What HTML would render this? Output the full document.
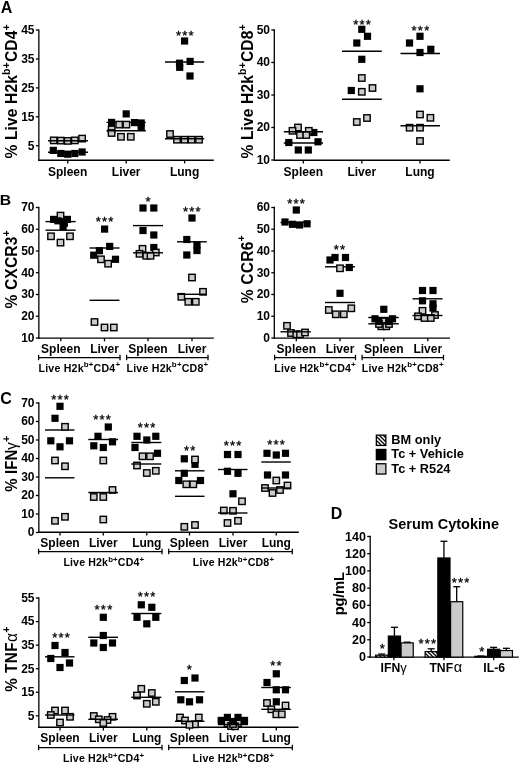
<!DOCTYPE html>
<html><head><meta charset="utf-8"><title>Figure</title>
<style>
html,body{margin:0;padding:0;background:#fff;}
body{width:520px;height:763px;overflow:hidden;}
svg{display:block;will-change:transform;font-family:"Liberation Sans", sans-serif;fill:#000;}
</style></head><body>
<svg width="520" height="763" viewBox="0 0 520 763">
<defs>
<pattern id="hatch" width="4" height="4" patternUnits="userSpaceOnUse">
<rect width="4" height="4" fill="#fff"/>
<path d="M-1,-1 L5,5 M-1,3 L1,5 M3,-1 L5,1" stroke="#000" stroke-width="1.25" fill="none"/>
</pattern>
</defs>
<rect width="520" height="763" fill="#fff"/>
<text x="0.80" y="12.60" font-size="16" font-weight="bold" text-anchor="start" >A</text>
<text x="-0.20" y="205.00" font-size="15.3" font-weight="bold" text-anchor="start" textLength="11.4" lengthAdjust="spacingAndGlyphs">B</text>
<text x="0.20" y="403.70" font-size="16" font-weight="bold" text-anchor="start" >C</text>
<text x="330.80" y="518.80" font-size="16" font-weight="bold" text-anchor="start" >D</text>
<line x1="38.85" y1="29.45" x2="38.85" y2="160.90" stroke="#000" stroke-width="1.3"/>
<line x1="38.20" y1="160.20" x2="213.80" y2="160.20" stroke="#000" stroke-width="1.4"/>
<line x1="35.85" y1="30.10" x2="38.85" y2="30.10" stroke="#000" stroke-width="1.3"/>
<text x="34.55" y="33.98" font-size="12" font-weight="bold" text-anchor="end" >45</text>
<line x1="35.85" y1="59.00" x2="38.85" y2="59.00" stroke="#000" stroke-width="1.3"/>
<text x="34.55" y="62.88" font-size="12" font-weight="bold" text-anchor="end" >35</text>
<line x1="35.85" y1="87.90" x2="38.85" y2="87.90" stroke="#000" stroke-width="1.3"/>
<text x="34.55" y="91.78" font-size="12" font-weight="bold" text-anchor="end" >25</text>
<line x1="35.85" y1="116.80" x2="38.85" y2="116.80" stroke="#000" stroke-width="1.3"/>
<text x="34.55" y="120.68" font-size="12" font-weight="bold" text-anchor="end" >15</text>
<line x1="35.85" y1="145.70" x2="38.85" y2="145.70" stroke="#000" stroke-width="1.3"/>
<text x="34.55" y="149.58" font-size="12" font-weight="bold" text-anchor="end" >5</text>
<line x1="67.70" y1="160.20" x2="67.70" y2="163.40" stroke="#000" stroke-width="1.3"/>
<text x="67.70" y="175.60" font-size="12" font-weight="bold" text-anchor="middle" >Spleen</text>
<line x1="126.20" y1="160.20" x2="126.20" y2="163.40" stroke="#000" stroke-width="1.3"/>
<text x="126.20" y="175.60" font-size="12" font-weight="bold" text-anchor="middle" >Liver</text>
<line x1="184.60" y1="160.20" x2="184.60" y2="163.40" stroke="#000" stroke-width="1.3"/>
<text x="184.60" y="175.60" font-size="12" font-weight="bold" text-anchor="middle" >Lung</text>
<text transform="translate(17.00,158.50) rotate(-90)" font-size="15.6" font-weight="bold" textLength="134.10" lengthAdjust="spacing">% Live H2k<tspan font-size="10.5" dy="-7">b+</tspan><tspan dy="7">CD4</tspan><tspan font-size="10.5" dy="-7">+</tspan></text>
<rect x="49.70" y="146.80" width="7.2" height="7.2" fill="#000"/>
<rect x="57.20" y="149.90" width="7.2" height="7.2" fill="#000"/>
<rect x="64.10" y="150.60" width="7.2" height="7.2" fill="#000"/>
<rect x="71.20" y="149.90" width="7.2" height="7.2" fill="#000"/>
<rect x="78.50" y="148.40" width="7.2" height="7.2" fill="#000"/>
<line x1="48.00" y1="152.30" x2="88.00" y2="152.30" stroke="#000" stroke-width="1.4"/>
<rect x="50.50" y="137.20" width="6.4" height="6.4" fill="#cbcbcb" stroke="#000" stroke-width="1.4"/>
<rect x="57.60" y="137.40" width="6.4" height="6.4" fill="#cbcbcb" stroke="#000" stroke-width="1.4"/>
<rect x="64.50" y="137.70" width="6.4" height="6.4" fill="#cbcbcb" stroke="#000" stroke-width="1.4"/>
<rect x="71.60" y="137.20" width="6.4" height="6.4" fill="#cbcbcb" stroke="#000" stroke-width="1.4"/>
<rect x="78.90" y="135.40" width="6.4" height="6.4" fill="#cbcbcb" stroke="#000" stroke-width="1.4"/>
<line x1="48.00" y1="140.80" x2="88.00" y2="140.80" stroke="#000" stroke-width="1.4"/>
<rect x="122.60" y="110.30" width="7.2" height="7.2" fill="#000"/>
<rect x="108.00" y="118.80" width="7.2" height="7.2" fill="#000"/>
<rect x="130.90" y="119.00" width="7.2" height="7.2" fill="#000"/>
<rect x="137.60" y="119.40" width="7.2" height="7.2" fill="#000"/>
<rect x="137.60" y="123.40" width="7.2" height="7.2" fill="#000"/>
<line x1="106.50" y1="122.40" x2="145.80" y2="122.40" stroke="#000" stroke-width="1.4"/>
<rect x="116.00" y="121.40" width="6.4" height="6.4" fill="#cbcbcb" stroke="#000" stroke-width="1.4"/>
<rect x="123.20" y="121.40" width="6.4" height="6.4" fill="#cbcbcb" stroke="#000" stroke-width="1.4"/>
<rect x="108.40" y="126.20" width="6.4" height="6.4" fill="#cbcbcb" stroke="#000" stroke-width="1.4"/>
<rect x="108.40" y="129.80" width="6.4" height="6.4" fill="#cbcbcb" stroke="#000" stroke-width="1.4"/>
<rect x="117.80" y="133.60" width="6.4" height="6.4" fill="#cbcbcb" stroke="#000" stroke-width="1.4"/>
<rect x="127.60" y="133.60" width="6.4" height="6.4" fill="#cbcbcb" stroke="#000" stroke-width="1.4"/>
<line x1="106.50" y1="130.70" x2="145.80" y2="130.70" stroke="#000" stroke-width="1.4"/>
<rect x="181.00" y="37.40" width="7.2" height="7.2" fill="#000"/>
<rect x="186.50" y="57.80" width="7.2" height="7.2" fill="#000"/>
<rect x="175.90" y="59.60" width="7.2" height="7.2" fill="#000"/>
<rect x="176.10" y="63.70" width="7.2" height="7.2" fill="#000"/>
<rect x="186.40" y="72.40" width="7.2" height="7.2" fill="#000"/>
<line x1="165.00" y1="62.00" x2="204.20" y2="62.00" stroke="#000" stroke-width="1.4"/>
<rect x="166.80" y="130.80" width="6.4" height="6.4" fill="#cbcbcb" stroke="#000" stroke-width="1.4"/>
<rect x="173.80" y="136.50" width="6.4" height="6.4" fill="#cbcbcb" stroke="#000" stroke-width="1.4"/>
<rect x="181.40" y="136.50" width="6.4" height="6.4" fill="#cbcbcb" stroke="#000" stroke-width="1.4"/>
<rect x="188.30" y="136.50" width="6.4" height="6.4" fill="#cbcbcb" stroke="#000" stroke-width="1.4"/>
<rect x="195.80" y="136.50" width="6.4" height="6.4" fill="#cbcbcb" stroke="#000" stroke-width="1.4"/>
<line x1="165.00" y1="138.80" x2="204.20" y2="138.80" stroke="#000" stroke-width="1.4"/>
<text x="185.30" y="39.59" font-size="13" text-anchor="middle" letter-spacing="1.2" stroke="#000" stroke-width="0.3">***</text>
<line x1="274.30" y1="29.35" x2="274.30" y2="160.90" stroke="#000" stroke-width="1.3"/>
<line x1="273.65" y1="160.20" x2="449.80" y2="160.20" stroke="#000" stroke-width="1.4"/>
<line x1="271.30" y1="30.00" x2="274.30" y2="30.00" stroke="#000" stroke-width="1.3"/>
<text x="270.00" y="33.88" font-size="12" font-weight="bold" text-anchor="end" >50</text>
<line x1="271.30" y1="62.50" x2="274.30" y2="62.50" stroke="#000" stroke-width="1.3"/>
<text x="270.00" y="66.38" font-size="12" font-weight="bold" text-anchor="end" >40</text>
<line x1="271.30" y1="95.00" x2="274.30" y2="95.00" stroke="#000" stroke-width="1.3"/>
<text x="270.00" y="98.88" font-size="12" font-weight="bold" text-anchor="end" >30</text>
<line x1="271.30" y1="127.50" x2="274.30" y2="127.50" stroke="#000" stroke-width="1.3"/>
<text x="270.00" y="131.38" font-size="12" font-weight="bold" text-anchor="end" >20</text>
<line x1="271.30" y1="160.00" x2="274.30" y2="160.00" stroke="#000" stroke-width="1.3"/>
<text x="270.00" y="163.88" font-size="12" font-weight="bold" text-anchor="end" >10</text>
<line x1="303.30" y1="160.20" x2="303.30" y2="163.40" stroke="#000" stroke-width="1.3"/>
<text x="303.30" y="175.60" font-size="12" font-weight="bold" text-anchor="middle" >Spleen</text>
<line x1="361.80" y1="160.20" x2="361.80" y2="163.40" stroke="#000" stroke-width="1.3"/>
<text x="361.80" y="175.60" font-size="12" font-weight="bold" text-anchor="middle" >Liver</text>
<line x1="420.00" y1="160.20" x2="420.00" y2="163.40" stroke="#000" stroke-width="1.3"/>
<text x="420.00" y="175.60" font-size="12" font-weight="bold" text-anchor="middle" >Lung</text>
<text transform="translate(252.80,158.50) rotate(-90)" font-size="15.6" font-weight="bold" textLength="134.10" lengthAdjust="spacing">% Live H2k<tspan font-size="10.5" dy="-7">b+</tspan><tspan dy="7">CD8</tspan><tspan font-size="10.5" dy="-7">+</tspan></text>
<rect x="310.20" y="128.90" width="7.2" height="7.2" fill="#000"/>
<rect x="285.20" y="138.90" width="7.2" height="7.2" fill="#000"/>
<rect x="314.40" y="138.20" width="7.2" height="7.2" fill="#000"/>
<rect x="294.70" y="146.40" width="7.2" height="7.2" fill="#000"/>
<rect x="304.70" y="146.40" width="7.2" height="7.2" fill="#000"/>
<line x1="283.80" y1="143.00" x2="323.00" y2="143.00" stroke="#000" stroke-width="1.4"/>
<rect x="294.80" y="124.30" width="6.4" height="6.4" fill="#cbcbcb" stroke="#000" stroke-width="1.4"/>
<rect x="289.30" y="127.60" width="6.4" height="6.4" fill="#cbcbcb" stroke="#000" stroke-width="1.4"/>
<rect x="305.60" y="127.60" width="6.4" height="6.4" fill="#cbcbcb" stroke="#000" stroke-width="1.4"/>
<rect x="296.80" y="131.80" width="6.4" height="6.4" fill="#cbcbcb" stroke="#000" stroke-width="1.4"/>
<rect x="303.10" y="131.80" width="6.4" height="6.4" fill="#cbcbcb" stroke="#000" stroke-width="1.4"/>
<line x1="283.80" y1="131.80" x2="323.00" y2="131.80" stroke="#000" stroke-width="1.4"/>
<rect x="358.20" y="25.70" width="7.2" height="7.2" fill="#000"/>
<rect x="363.90" y="32.70" width="7.2" height="7.2" fill="#000"/>
<rect x="353.20" y="39.40" width="7.2" height="7.2" fill="#000"/>
<rect x="358.20" y="55.70" width="7.2" height="7.2" fill="#000"/>
<rect x="347.70" y="86.90" width="7.2" height="7.2" fill="#000"/>
<line x1="342.00" y1="51.30" x2="381.80" y2="51.30" stroke="#000" stroke-width="1.4"/>
<rect x="358.60" y="74.80" width="6.4" height="6.4" fill="#cbcbcb" stroke="#000" stroke-width="1.4"/>
<rect x="369.30" y="84.80" width="6.4" height="6.4" fill="#cbcbcb" stroke="#000" stroke-width="1.4"/>
<rect x="358.60" y="88.60" width="6.4" height="6.4" fill="#cbcbcb" stroke="#000" stroke-width="1.4"/>
<rect x="363.80" y="114.80" width="6.4" height="6.4" fill="#cbcbcb" stroke="#000" stroke-width="1.4"/>
<rect x="353.60" y="118.80" width="6.4" height="6.4" fill="#cbcbcb" stroke="#000" stroke-width="1.4"/>
<line x1="342.00" y1="99.30" x2="381.80" y2="99.30" stroke="#000" stroke-width="1.4"/>
<rect x="416.40" y="32.70" width="7.2" height="7.2" fill="#000"/>
<rect x="405.90" y="39.40" width="7.2" height="7.2" fill="#000"/>
<rect x="427.20" y="45.70" width="7.2" height="7.2" fill="#000"/>
<rect x="416.40" y="48.90" width="7.2" height="7.2" fill="#000"/>
<rect x="416.40" y="85.20" width="7.2" height="7.2" fill="#000"/>
<line x1="400.50" y1="53.50" x2="440.00" y2="53.50" stroke="#000" stroke-width="1.4"/>
<rect x="416.80" y="111.30" width="6.4" height="6.4" fill="#cbcbcb" stroke="#000" stroke-width="1.4"/>
<rect x="427.20" y="114.60" width="6.4" height="6.4" fill="#cbcbcb" stroke="#000" stroke-width="1.4"/>
<rect x="406.40" y="124.50" width="6.4" height="6.4" fill="#cbcbcb" stroke="#000" stroke-width="1.4"/>
<rect x="416.80" y="124.50" width="6.4" height="6.4" fill="#cbcbcb" stroke="#000" stroke-width="1.4"/>
<rect x="416.80" y="137.80" width="6.4" height="6.4" fill="#cbcbcb" stroke="#000" stroke-width="1.4"/>
<line x1="400.50" y1="125.70" x2="440.00" y2="125.70" stroke="#000" stroke-width="1.4"/>
<text x="362.60" y="28.79" font-size="13" text-anchor="middle" letter-spacing="1.2" stroke="#000" stroke-width="0.3">***</text>
<text x="421.00" y="34.59" font-size="13" text-anchor="middle" letter-spacing="1.2" stroke="#000" stroke-width="0.3">***</text>
<line x1="38.85" y1="206.85" x2="38.85" y2="338.85" stroke="#000" stroke-width="1.3"/>
<line x1="38.20" y1="338.15" x2="213.80" y2="338.15" stroke="#000" stroke-width="1.4"/>
<line x1="35.85" y1="207.50" x2="38.85" y2="207.50" stroke="#000" stroke-width="1.3"/>
<text x="34.55" y="211.38" font-size="12" font-weight="bold" text-anchor="end" >70</text>
<line x1="35.85" y1="229.25" x2="38.85" y2="229.25" stroke="#000" stroke-width="1.3"/>
<text x="34.55" y="233.13" font-size="12" font-weight="bold" text-anchor="end" >60</text>
<line x1="35.85" y1="251.00" x2="38.85" y2="251.00" stroke="#000" stroke-width="1.3"/>
<text x="34.55" y="254.88" font-size="12" font-weight="bold" text-anchor="end" >50</text>
<line x1="35.85" y1="272.75" x2="38.85" y2="272.75" stroke="#000" stroke-width="1.3"/>
<text x="34.55" y="276.63" font-size="12" font-weight="bold" text-anchor="end" >40</text>
<line x1="35.85" y1="294.50" x2="38.85" y2="294.50" stroke="#000" stroke-width="1.3"/>
<text x="34.55" y="298.38" font-size="12" font-weight="bold" text-anchor="end" >30</text>
<line x1="35.85" y1="316.25" x2="38.85" y2="316.25" stroke="#000" stroke-width="1.3"/>
<text x="34.55" y="320.13" font-size="12" font-weight="bold" text-anchor="end" >20</text>
<line x1="35.85" y1="338.00" x2="38.85" y2="338.00" stroke="#000" stroke-width="1.3"/>
<text x="34.55" y="341.88" font-size="12" font-weight="bold" text-anchor="end" >10</text>
<line x1="60.80" y1="338.15" x2="60.80" y2="341.35" stroke="#000" stroke-width="1.3"/>
<text x="60.80" y="352.60" font-size="12" font-weight="bold" text-anchor="middle" >Spleen</text>
<line x1="104.50" y1="338.15" x2="104.50" y2="341.35" stroke="#000" stroke-width="1.3"/>
<text x="104.50" y="352.60" font-size="12" font-weight="bold" text-anchor="middle" >Liver</text>
<line x1="148.00" y1="338.15" x2="148.00" y2="341.35" stroke="#000" stroke-width="1.3"/>
<text x="148.00" y="352.60" font-size="12" font-weight="bold" text-anchor="middle" >Spleen</text>
<line x1="192.00" y1="338.15" x2="192.00" y2="341.35" stroke="#000" stroke-width="1.3"/>
<text x="192.00" y="352.60" font-size="12" font-weight="bold" text-anchor="middle" >Liver</text>
<text transform="translate(17.00,308.60) rotate(-90)" font-size="15.6" font-weight="bold" textLength="78.30" lengthAdjust="spacing">% CXCR3<tspan font-size="10.5" dy="-7.4">+</tspan></text>
<rect x="57.30" y="212.40" width="6.4" height="6.4" fill="#cbcbcb" stroke="#000" stroke-width="1.4"/>
<rect x="60.80" y="219.80" width="6.4" height="6.4" fill="#cbcbcb" stroke="#000" stroke-width="1.4"/>
<rect x="47.80" y="233.10" width="6.4" height="6.4" fill="#cbcbcb" stroke="#000" stroke-width="1.4"/>
<rect x="66.80" y="233.10" width="6.4" height="6.4" fill="#cbcbcb" stroke="#000" stroke-width="1.4"/>
<rect x="57.30" y="239.40" width="6.4" height="6.4" fill="#cbcbcb" stroke="#000" stroke-width="1.4"/>
<line x1="45.50" y1="230.20" x2="75.70" y2="230.20" stroke="#000" stroke-width="1.4"/>
<rect x="50.00" y="215.80" width="7.2" height="7.2" fill="#000"/>
<rect x="54.30" y="217.20" width="7.2" height="7.2" fill="#000"/>
<rect x="60.40" y="218.00" width="7.2" height="7.2" fill="#000"/>
<rect x="63.80" y="215.80" width="7.2" height="7.2" fill="#000"/>
<rect x="59.50" y="223.20" width="7.2" height="7.2" fill="#000"/>
<line x1="45.50" y1="221.60" x2="75.70" y2="221.60" stroke="#000" stroke-width="1.4"/>
<rect x="101.00" y="225.50" width="7.2" height="7.2" fill="#000"/>
<rect x="106.10" y="242.80" width="7.2" height="7.2" fill="#000"/>
<rect x="95.80" y="247.10" width="7.2" height="7.2" fill="#000"/>
<rect x="90.10" y="251.60" width="7.2" height="7.2" fill="#000"/>
<rect x="111.90" y="255.70" width="7.2" height="7.2" fill="#000"/>
<line x1="89.50" y1="248.00" x2="119.50" y2="248.00" stroke="#000" stroke-width="1.4"/>
<rect x="97.80" y="256.10" width="6.4" height="6.4" fill="#cbcbcb" stroke="#000" stroke-width="1.4"/>
<rect x="104.90" y="260.50" width="6.4" height="6.4" fill="#cbcbcb" stroke="#000" stroke-width="1.4"/>
<rect x="91.30" y="318.80" width="6.4" height="6.4" fill="#cbcbcb" stroke="#000" stroke-width="1.4"/>
<rect x="101.30" y="324.30" width="6.4" height="6.4" fill="#cbcbcb" stroke="#000" stroke-width="1.4"/>
<rect x="110.60" y="324.30" width="6.4" height="6.4" fill="#cbcbcb" stroke="#000" stroke-width="1.4"/>
<line x1="89.50" y1="300.30" x2="119.50" y2="300.30" stroke="#000" stroke-width="1.4"/>
<text x="105.20" y="226.09" font-size="13" text-anchor="middle" letter-spacing="1.2" stroke="#000" stroke-width="0.3">***</text>
<rect x="139.40" y="204.40" width="7.2" height="7.2" fill="#000"/>
<rect x="150.20" y="204.40" width="7.2" height="7.2" fill="#000"/>
<rect x="139.40" y="226.90" width="7.2" height="7.2" fill="#000"/>
<rect x="150.20" y="231.40" width="7.2" height="7.2" fill="#000"/>
<rect x="150.20" y="243.90" width="7.2" height="7.2" fill="#000"/>
<line x1="133.00" y1="225.60" x2="163.00" y2="225.60" stroke="#000" stroke-width="1.4"/>
<rect x="139.30" y="245.60" width="6.4" height="6.4" fill="#cbcbcb" stroke="#000" stroke-width="1.4"/>
<rect x="152.60" y="249.30" width="6.4" height="6.4" fill="#cbcbcb" stroke="#000" stroke-width="1.4"/>
<rect x="136.30" y="250.60" width="6.4" height="6.4" fill="#cbcbcb" stroke="#000" stroke-width="1.4"/>
<rect x="143.10" y="252.60" width="6.4" height="6.4" fill="#cbcbcb" stroke="#000" stroke-width="1.4"/>
<rect x="147.30" y="252.60" width="6.4" height="6.4" fill="#cbcbcb" stroke="#000" stroke-width="1.4"/>
<line x1="133.00" y1="252.80" x2="163.00" y2="252.80" stroke="#000" stroke-width="1.4"/>
<text x="148.60" y="206.39" font-size="13" text-anchor="middle" letter-spacing="1.2" stroke="#000" stroke-width="0.3">*</text>
<rect x="188.40" y="214.40" width="7.2" height="7.2" fill="#000"/>
<rect x="183.20" y="235.90" width="7.2" height="7.2" fill="#000"/>
<rect x="193.40" y="241.40" width="7.2" height="7.2" fill="#000"/>
<rect x="193.40" y="246.90" width="7.2" height="7.2" fill="#000"/>
<rect x="183.20" y="251.40" width="7.2" height="7.2" fill="#000"/>
<line x1="177.00" y1="241.80" x2="206.80" y2="241.80" stroke="#000" stroke-width="1.4"/>
<rect x="188.80" y="274.30" width="6.4" height="6.4" fill="#cbcbcb" stroke="#000" stroke-width="1.4"/>
<rect x="199.80" y="288.60" width="6.4" height="6.4" fill="#cbcbcb" stroke="#000" stroke-width="1.4"/>
<rect x="178.10" y="293.60" width="6.4" height="6.4" fill="#cbcbcb" stroke="#000" stroke-width="1.4"/>
<rect x="185.10" y="298.60" width="6.4" height="6.4" fill="#cbcbcb" stroke="#000" stroke-width="1.4"/>
<rect x="192.60" y="298.60" width="6.4" height="6.4" fill="#cbcbcb" stroke="#000" stroke-width="1.4"/>
<line x1="177.00" y1="294.30" x2="206.80" y2="294.30" stroke="#000" stroke-width="1.4"/>
<text x="192.30" y="215.59" font-size="13" text-anchor="middle" letter-spacing="1.2" stroke="#000" stroke-width="0.3">***</text>
<line x1="38.30" y1="357.50" x2="120.30" y2="357.50" stroke="#000" stroke-width="1.25"/>
<line x1="38.60" y1="354.80" x2="38.60" y2="360.20" stroke="#000" stroke-width="1.25"/>
<line x1="120.00" y1="354.80" x2="120.00" y2="360.20" stroke="#000" stroke-width="1.25"/>
<line x1="126.30" y1="357.50" x2="208.30" y2="357.50" stroke="#000" stroke-width="1.25"/>
<line x1="126.60" y1="354.80" x2="126.60" y2="360.20" stroke="#000" stroke-width="1.25"/>
<line x1="208.00" y1="354.80" x2="208.00" y2="360.20" stroke="#000" stroke-width="1.25"/>
<text x="38.50" y="371.70" font-size="10.6" font-weight="bold" textLength="81.50" lengthAdjust="spacing">Live H2k<tspan font-size="7.9" dy="-4.3">b+</tspan><tspan dy="4.3">CD4</tspan><tspan font-size="7.9" dy="-4.3">+</tspan></text>
<text x="126.50" y="371.70" font-size="10.6" font-weight="bold" textLength="81.70" lengthAdjust="spacing">Live H2k<tspan font-size="7.9" dy="-4.3">b+</tspan><tspan dy="4.3">CD8</tspan><tspan font-size="7.9" dy="-4.3">+</tspan></text>
<line x1="274.30" y1="206.85" x2="274.30" y2="338.85" stroke="#000" stroke-width="1.3"/>
<line x1="273.65" y1="338.15" x2="450.00" y2="338.15" stroke="#000" stroke-width="1.4"/>
<line x1="271.30" y1="207.50" x2="274.30" y2="207.50" stroke="#000" stroke-width="1.3"/>
<text x="270.00" y="211.38" font-size="12" font-weight="bold" text-anchor="end" >60</text>
<line x1="271.30" y1="229.25" x2="274.30" y2="229.25" stroke="#000" stroke-width="1.3"/>
<text x="270.00" y="233.13" font-size="12" font-weight="bold" text-anchor="end" >50</text>
<line x1="271.30" y1="251.00" x2="274.30" y2="251.00" stroke="#000" stroke-width="1.3"/>
<text x="270.00" y="254.88" font-size="12" font-weight="bold" text-anchor="end" >40</text>
<line x1="271.30" y1="272.75" x2="274.30" y2="272.75" stroke="#000" stroke-width="1.3"/>
<text x="270.00" y="276.63" font-size="12" font-weight="bold" text-anchor="end" >30</text>
<line x1="271.30" y1="294.50" x2="274.30" y2="294.50" stroke="#000" stroke-width="1.3"/>
<text x="270.00" y="298.38" font-size="12" font-weight="bold" text-anchor="end" >20</text>
<line x1="271.30" y1="316.25" x2="274.30" y2="316.25" stroke="#000" stroke-width="1.3"/>
<text x="270.00" y="320.13" font-size="12" font-weight="bold" text-anchor="end" >10</text>
<line x1="271.30" y1="338.00" x2="274.30" y2="338.00" stroke="#000" stroke-width="1.3"/>
<text x="270.00" y="341.88" font-size="12" font-weight="bold" text-anchor="end" >0</text>
<line x1="296.30" y1="338.15" x2="296.30" y2="341.35" stroke="#000" stroke-width="1.3"/>
<text x="296.30" y="352.60" font-size="12" font-weight="bold" text-anchor="middle" >Spleen</text>
<line x1="340.00" y1="338.15" x2="340.00" y2="341.35" stroke="#000" stroke-width="1.3"/>
<text x="340.00" y="352.60" font-size="12" font-weight="bold" text-anchor="middle" >Liver</text>
<line x1="383.80" y1="338.15" x2="383.80" y2="341.35" stroke="#000" stroke-width="1.3"/>
<text x="383.80" y="352.60" font-size="12" font-weight="bold" text-anchor="middle" >Spleen</text>
<line x1="427.80" y1="338.15" x2="427.80" y2="341.35" stroke="#000" stroke-width="1.3"/>
<text x="427.80" y="352.60" font-size="12" font-weight="bold" text-anchor="middle" >Liver</text>
<text transform="translate(252.60,303.30) rotate(-90)" font-size="15.6" font-weight="bold" textLength="68.00" lengthAdjust="spacing">% CCR6<tspan font-size="10.5" dy="-7.4">+</tspan></text>
<rect x="292.70" y="206.40" width="7.2" height="7.2" fill="#000"/>
<rect x="281.40" y="218.40" width="7.2" height="7.2" fill="#000"/>
<rect x="288.90" y="220.70" width="7.2" height="7.2" fill="#000"/>
<rect x="295.90" y="221.40" width="7.2" height="7.2" fill="#000"/>
<rect x="303.40" y="220.20" width="7.2" height="7.2" fill="#000"/>
<line x1="280.50" y1="222.50" x2="310.80" y2="222.50" stroke="#000" stroke-width="1.4"/>
<rect x="283.80" y="322.60" width="6.4" height="6.4" fill="#cbcbcb" stroke="#000" stroke-width="1.4"/>
<rect x="287.80" y="329.80" width="6.4" height="6.4" fill="#cbcbcb" stroke="#000" stroke-width="1.4"/>
<rect x="293.10" y="331.10" width="6.4" height="6.4" fill="#cbcbcb" stroke="#000" stroke-width="1.4"/>
<rect x="296.80" y="331.10" width="6.4" height="6.4" fill="#cbcbcb" stroke="#000" stroke-width="1.4"/>
<rect x="301.80" y="329.30" width="6.4" height="6.4" fill="#cbcbcb" stroke="#000" stroke-width="1.4"/>
<line x1="280.50" y1="331.80" x2="310.80" y2="331.80" stroke="#000" stroke-width="1.4"/>
<text x="296.60" y="208.19" font-size="13" text-anchor="middle" letter-spacing="1.2" stroke="#000" stroke-width="0.3">***</text>
<rect x="326.40" y="256.40" width="7.2" height="7.2" fill="#000"/>
<rect x="331.40" y="253.90" width="7.2" height="7.2" fill="#000"/>
<rect x="341.90" y="253.90" width="7.2" height="7.2" fill="#000"/>
<rect x="345.70" y="263.90" width="7.2" height="7.2" fill="#000"/>
<rect x="336.40" y="289.70" width="7.2" height="7.2" fill="#000"/>
<line x1="325.00" y1="266.80" x2="355.00" y2="266.80" stroke="#000" stroke-width="1.4"/>
<rect x="336.80" y="265.10" width="6.4" height="6.4" fill="#cbcbcb" stroke="#000" stroke-width="1.4"/>
<rect x="325.60" y="306.80" width="6.4" height="6.4" fill="#cbcbcb" stroke="#000" stroke-width="1.4"/>
<rect x="332.60" y="311.10" width="6.4" height="6.4" fill="#cbcbcb" stroke="#000" stroke-width="1.4"/>
<rect x="340.60" y="311.10" width="6.4" height="6.4" fill="#cbcbcb" stroke="#000" stroke-width="1.4"/>
<rect x="348.10" y="305.10" width="6.4" height="6.4" fill="#cbcbcb" stroke="#000" stroke-width="1.4"/>
<line x1="325.00" y1="302.50" x2="355.00" y2="302.50" stroke="#000" stroke-width="1.4"/>
<text x="340.00" y="254.39" font-size="13" text-anchor="middle" letter-spacing="1.2" stroke="#000" stroke-width="0.3">**</text>
<rect x="380.60" y="318.10" width="6.4" height="6.4" fill="#cbcbcb" stroke="#000" stroke-width="1.4"/>
<rect x="378.10" y="323.10" width="6.4" height="6.4" fill="#cbcbcb" stroke="#000" stroke-width="1.4"/>
<rect x="383.10" y="323.10" width="6.4" height="6.4" fill="#cbcbcb" stroke="#000" stroke-width="1.4"/>
<rect x="375.80" y="320.80" width="6.4" height="6.4" fill="#cbcbcb" stroke="#000" stroke-width="1.4"/>
<rect x="385.80" y="320.80" width="6.4" height="6.4" fill="#cbcbcb" stroke="#000" stroke-width="1.4"/>
<line x1="368.30" y1="323.80" x2="398.80" y2="323.80" stroke="#000" stroke-width="1.4"/>
<rect x="380.20" y="305.70" width="7.2" height="7.2" fill="#000"/>
<rect x="371.40" y="315.20" width="7.2" height="7.2" fill="#000"/>
<rect x="388.90" y="315.20" width="7.2" height="7.2" fill="#000"/>
<rect x="375.20" y="317.70" width="7.2" height="7.2" fill="#000"/>
<rect x="385.20" y="317.70" width="7.2" height="7.2" fill="#000"/>
<line x1="368.30" y1="317.50" x2="398.80" y2="317.50" stroke="#000" stroke-width="1.4"/>
<rect x="418.90" y="286.90" width="7.2" height="7.2" fill="#000"/>
<rect x="429.40" y="286.90" width="7.2" height="7.2" fill="#000"/>
<rect x="418.90" y="297.20" width="7.2" height="7.2" fill="#000"/>
<rect x="429.40" y="300.20" width="7.2" height="7.2" fill="#000"/>
<rect x="429.40" y="304.40" width="7.2" height="7.2" fill="#000"/>
<line x1="412.50" y1="298.80" x2="442.50" y2="298.80" stroke="#000" stroke-width="1.4"/>
<rect x="419.30" y="307.60" width="6.4" height="6.4" fill="#cbcbcb" stroke="#000" stroke-width="1.4"/>
<rect x="431.80" y="311.80" width="6.4" height="6.4" fill="#cbcbcb" stroke="#000" stroke-width="1.4"/>
<rect x="414.80" y="313.10" width="6.4" height="6.4" fill="#cbcbcb" stroke="#000" stroke-width="1.4"/>
<rect x="421.30" y="314.80" width="6.4" height="6.4" fill="#cbcbcb" stroke="#000" stroke-width="1.4"/>
<rect x="427.60" y="314.80" width="6.4" height="6.4" fill="#cbcbcb" stroke="#000" stroke-width="1.4"/>
<line x1="412.50" y1="315.50" x2="442.50" y2="315.50" stroke="#000" stroke-width="1.4"/>
<line x1="274.30" y1="357.50" x2="355.80" y2="357.50" stroke="#000" stroke-width="1.25"/>
<line x1="274.60" y1="354.80" x2="274.60" y2="360.20" stroke="#000" stroke-width="1.25"/>
<line x1="355.50" y1="354.80" x2="355.50" y2="360.20" stroke="#000" stroke-width="1.25"/>
<line x1="361.80" y1="357.50" x2="443.80" y2="357.50" stroke="#000" stroke-width="1.25"/>
<line x1="362.10" y1="354.80" x2="362.10" y2="360.20" stroke="#000" stroke-width="1.25"/>
<line x1="443.50" y1="354.80" x2="443.50" y2="360.20" stroke="#000" stroke-width="1.25"/>
<text x="274.20" y="371.70" font-size="10.6" font-weight="bold" textLength="81.50" lengthAdjust="spacing">Live H2k<tspan font-size="7.9" dy="-4.3">b+</tspan><tspan dy="4.3">CD4</tspan><tspan font-size="7.9" dy="-4.3">+</tspan></text>
<text x="361.70" y="371.70" font-size="10.6" font-weight="bold" textLength="81.80" lengthAdjust="spacing">Live H2k<tspan font-size="7.9" dy="-4.3">b+</tspan><tspan dy="4.3">CD8</tspan><tspan font-size="7.9" dy="-4.3">+</tspan></text>
<line x1="38.85" y1="402.35" x2="38.85" y2="533.00" stroke="#000" stroke-width="1.3"/>
<line x1="38.20" y1="532.30" x2="298.80" y2="532.30" stroke="#000" stroke-width="1.4"/>
<line x1="35.85" y1="403.00" x2="38.85" y2="403.00" stroke="#000" stroke-width="1.3"/>
<text x="34.55" y="406.88" font-size="12" font-weight="bold" text-anchor="end" >70</text>
<line x1="35.85" y1="421.50" x2="38.85" y2="421.50" stroke="#000" stroke-width="1.3"/>
<text x="34.55" y="425.38" font-size="12" font-weight="bold" text-anchor="end" >60</text>
<line x1="35.85" y1="440.00" x2="38.85" y2="440.00" stroke="#000" stroke-width="1.3"/>
<text x="34.55" y="443.88" font-size="12" font-weight="bold" text-anchor="end" >50</text>
<line x1="35.85" y1="458.50" x2="38.85" y2="458.50" stroke="#000" stroke-width="1.3"/>
<text x="34.55" y="462.38" font-size="12" font-weight="bold" text-anchor="end" >40</text>
<line x1="35.85" y1="477.00" x2="38.85" y2="477.00" stroke="#000" stroke-width="1.3"/>
<text x="34.55" y="480.88" font-size="12" font-weight="bold" text-anchor="end" >30</text>
<line x1="35.85" y1="495.50" x2="38.85" y2="495.50" stroke="#000" stroke-width="1.3"/>
<text x="34.55" y="499.38" font-size="12" font-weight="bold" text-anchor="end" >20</text>
<line x1="35.85" y1="514.00" x2="38.85" y2="514.00" stroke="#000" stroke-width="1.3"/>
<text x="34.55" y="517.88" font-size="12" font-weight="bold" text-anchor="end" >10</text>
<line x1="35.85" y1="532.50" x2="38.85" y2="532.50" stroke="#000" stroke-width="1.3"/>
<text x="34.55" y="536.38" font-size="12" font-weight="bold" text-anchor="end" >0</text>
<line x1="60.00" y1="532.30" x2="60.00" y2="535.50" stroke="#000" stroke-width="1.3"/>
<text x="60.00" y="546.90" font-size="12" font-weight="bold" text-anchor="middle" >Spleen</text>
<line x1="103.30" y1="532.30" x2="103.30" y2="535.50" stroke="#000" stroke-width="1.3"/>
<text x="103.30" y="546.90" font-size="12" font-weight="bold" text-anchor="middle" >Liver</text>
<line x1="146.80" y1="532.30" x2="146.80" y2="535.50" stroke="#000" stroke-width="1.3"/>
<text x="146.80" y="546.90" font-size="12" font-weight="bold" text-anchor="middle" >Lung</text>
<line x1="189.50" y1="532.30" x2="189.50" y2="535.50" stroke="#000" stroke-width="1.3"/>
<text x="189.50" y="546.90" font-size="12" font-weight="bold" text-anchor="middle" >Spleen</text>
<line x1="233.00" y1="532.30" x2="233.00" y2="535.50" stroke="#000" stroke-width="1.3"/>
<text x="233.00" y="546.90" font-size="12" font-weight="bold" text-anchor="middle" >Liver</text>
<line x1="276.30" y1="532.30" x2="276.30" y2="535.50" stroke="#000" stroke-width="1.3"/>
<text x="276.30" y="546.90" font-size="12" font-weight="bold" text-anchor="middle" >Lung</text>
<text transform="translate(17.00,491.80) rotate(-90) scale(1,1.09)" font-size="15" font-weight="bold" textLength="55.90" lengthAdjust="spacing">% IFN<tspan font-weight="normal">γ</tspan><tspan font-size="10.5" dy="-6.8">+</tspan></text>
<rect x="56.40" y="402.70" width="7.2" height="7.2" fill="#000"/>
<rect x="51.40" y="414.70" width="7.2" height="7.2" fill="#000"/>
<rect x="47.20" y="437.20" width="7.2" height="7.2" fill="#000"/>
<rect x="65.90" y="437.20" width="7.2" height="7.2" fill="#000"/>
<rect x="56.40" y="443.20" width="7.2" height="7.2" fill="#000"/>
<line x1="45.00" y1="430.00" x2="74.50" y2="430.00" stroke="#000" stroke-width="1.4"/>
<rect x="61.80" y="423.60" width="6.4" height="6.4" fill="#cbcbcb" stroke="#000" stroke-width="1.4"/>
<rect x="51.80" y="457.30" width="6.4" height="6.4" fill="#cbcbcb" stroke="#000" stroke-width="1.4"/>
<rect x="61.80" y="463.10" width="6.4" height="6.4" fill="#cbcbcb" stroke="#000" stroke-width="1.4"/>
<rect x="51.80" y="517.60" width="6.4" height="6.4" fill="#cbcbcb" stroke="#000" stroke-width="1.4"/>
<rect x="61.80" y="513.60" width="6.4" height="6.4" fill="#cbcbcb" stroke="#000" stroke-width="1.4"/>
<line x1="45.00" y1="477.80" x2="74.50" y2="477.80" stroke="#000" stroke-width="1.4"/>
<text x="60.60" y="404.19" font-size="13" text-anchor="middle" letter-spacing="1.2" stroke="#000" stroke-width="0.3">***</text>
<rect x="104.70" y="423.40" width="7.2" height="7.2" fill="#000"/>
<rect x="94.40" y="432.70" width="7.2" height="7.2" fill="#000"/>
<rect x="108.90" y="438.20" width="7.2" height="7.2" fill="#000"/>
<rect x="90.20" y="442.20" width="7.2" height="7.2" fill="#000"/>
<rect x="99.70" y="443.90" width="7.2" height="7.2" fill="#000"/>
<line x1="88.30" y1="439.50" x2="118.00" y2="439.50" stroke="#000" stroke-width="1.4"/>
<rect x="100.10" y="457.30" width="6.4" height="6.4" fill="#cbcbcb" stroke="#000" stroke-width="1.4"/>
<rect x="109.30" y="486.80" width="6.4" height="6.4" fill="#cbcbcb" stroke="#000" stroke-width="1.4"/>
<rect x="90.60" y="493.80" width="6.4" height="6.4" fill="#cbcbcb" stroke="#000" stroke-width="1.4"/>
<rect x="100.10" y="493.80" width="6.4" height="6.4" fill="#cbcbcb" stroke="#000" stroke-width="1.4"/>
<rect x="100.10" y="516.30" width="6.4" height="6.4" fill="#cbcbcb" stroke="#000" stroke-width="1.4"/>
<line x1="88.30" y1="492.50" x2="118.00" y2="492.50" stroke="#000" stroke-width="1.4"/>
<text x="102.60" y="424.39" font-size="13" text-anchor="middle" letter-spacing="1.2" stroke="#000" stroke-width="0.3">***</text>
<rect x="133.40" y="432.70" width="7.2" height="7.2" fill="#000"/>
<rect x="143.20" y="436.40" width="7.2" height="7.2" fill="#000"/>
<rect x="152.20" y="432.70" width="7.2" height="7.2" fill="#000"/>
<rect x="131.40" y="443.90" width="7.2" height="7.2" fill="#000"/>
<rect x="153.90" y="449.70" width="7.2" height="7.2" fill="#000"/>
<line x1="131.30" y1="442.50" x2="161.30" y2="442.50" stroke="#000" stroke-width="1.4"/>
<rect x="139.30" y="453.10" width="6.4" height="6.4" fill="#cbcbcb" stroke="#000" stroke-width="1.4"/>
<rect x="146.80" y="453.10" width="6.4" height="6.4" fill="#cbcbcb" stroke="#000" stroke-width="1.4"/>
<rect x="133.80" y="462.30" width="6.4" height="6.4" fill="#cbcbcb" stroke="#000" stroke-width="1.4"/>
<rect x="152.60" y="467.60" width="6.4" height="6.4" fill="#cbcbcb" stroke="#000" stroke-width="1.4"/>
<rect x="143.60" y="469.80" width="6.4" height="6.4" fill="#cbcbcb" stroke="#000" stroke-width="1.4"/>
<line x1="131.30" y1="464.00" x2="161.30" y2="464.00" stroke="#000" stroke-width="1.4"/>
<text x="147.20" y="432.19" font-size="13" text-anchor="middle" letter-spacing="1.2" stroke="#000" stroke-width="0.3">***</text>
<rect x="180.70" y="455.20" width="7.2" height="7.2" fill="#000"/>
<rect x="191.40" y="460.70" width="7.2" height="7.2" fill="#000"/>
<rect x="180.70" y="469.70" width="7.2" height="7.2" fill="#000"/>
<rect x="175.20" y="476.90" width="7.2" height="7.2" fill="#000"/>
<rect x="196.90" y="476.90" width="7.2" height="7.2" fill="#000"/>
<line x1="175.00" y1="470.80" x2="204.50" y2="470.80" stroke="#000" stroke-width="1.4"/>
<rect x="191.80" y="456.30" width="6.4" height="6.4" fill="#cbcbcb" stroke="#000" stroke-width="1.4"/>
<rect x="183.10" y="481.10" width="6.4" height="6.4" fill="#cbcbcb" stroke="#000" stroke-width="1.4"/>
<rect x="190.10" y="481.10" width="6.4" height="6.4" fill="#cbcbcb" stroke="#000" stroke-width="1.4"/>
<rect x="181.10" y="523.60" width="6.4" height="6.4" fill="#cbcbcb" stroke="#000" stroke-width="1.4"/>
<rect x="191.80" y="521.80" width="6.4" height="6.4" fill="#cbcbcb" stroke="#000" stroke-width="1.4"/>
<line x1="175.00" y1="496.30" x2="204.50" y2="496.30" stroke="#000" stroke-width="1.4"/>
<text x="190.20" y="455.39" font-size="13" text-anchor="middle" letter-spacing="1.2" stroke="#000" stroke-width="0.3">**</text>
<rect x="223.90" y="450.90" width="7.2" height="7.2" fill="#000"/>
<rect x="234.40" y="450.90" width="7.2" height="7.2" fill="#000"/>
<rect x="223.90" y="467.70" width="7.2" height="7.2" fill="#000"/>
<rect x="234.40" y="469.70" width="7.2" height="7.2" fill="#000"/>
<rect x="229.40" y="490.20" width="7.2" height="7.2" fill="#000"/>
<line x1="218.00" y1="469.50" x2="247.50" y2="469.50" stroke="#000" stroke-width="1.4"/>
<rect x="238.80" y="498.10" width="6.4" height="6.4" fill="#cbcbcb" stroke="#000" stroke-width="1.4"/>
<rect x="220.60" y="507.30" width="6.4" height="6.4" fill="#cbcbcb" stroke="#000" stroke-width="1.4"/>
<rect x="229.80" y="507.60" width="6.4" height="6.4" fill="#cbcbcb" stroke="#000" stroke-width="1.4"/>
<rect x="234.80" y="517.60" width="6.4" height="6.4" fill="#cbcbcb" stroke="#000" stroke-width="1.4"/>
<rect x="224.30" y="519.80" width="6.4" height="6.4" fill="#cbcbcb" stroke="#000" stroke-width="1.4"/>
<line x1="218.00" y1="513.00" x2="247.50" y2="513.00" stroke="#000" stroke-width="1.4"/>
<text x="233.10" y="450.39" font-size="13" text-anchor="middle" letter-spacing="1.2" stroke="#000" stroke-width="0.3">***</text>
<rect x="263.40" y="449.70" width="7.2" height="7.2" fill="#000"/>
<rect x="272.70" y="451.40" width="7.2" height="7.2" fill="#000"/>
<rect x="281.90" y="449.70" width="7.2" height="7.2" fill="#000"/>
<rect x="263.90" y="471.40" width="7.2" height="7.2" fill="#000"/>
<rect x="281.90" y="471.40" width="7.2" height="7.2" fill="#000"/>
<line x1="261.30" y1="462.00" x2="290.80" y2="462.00" stroke="#000" stroke-width="1.4"/>
<rect x="273.10" y="477.30" width="6.4" height="6.4" fill="#cbcbcb" stroke="#000" stroke-width="1.4"/>
<rect x="284.30" y="482.30" width="6.4" height="6.4" fill="#cbcbcb" stroke="#000" stroke-width="1.4"/>
<rect x="261.80" y="484.80" width="6.4" height="6.4" fill="#cbcbcb" stroke="#000" stroke-width="1.4"/>
<rect x="276.80" y="486.80" width="6.4" height="6.4" fill="#cbcbcb" stroke="#000" stroke-width="1.4"/>
<rect x="269.30" y="489.80" width="6.4" height="6.4" fill="#cbcbcb" stroke="#000" stroke-width="1.4"/>
<line x1="261.30" y1="488.00" x2="290.80" y2="488.00" stroke="#000" stroke-width="1.4"/>
<text x="276.60" y="449.39" font-size="13" text-anchor="middle" letter-spacing="1.2" stroke="#000" stroke-width="0.3">***</text>
<line x1="38.30" y1="551.50" x2="162.30" y2="551.50" stroke="#000" stroke-width="1.25"/>
<line x1="38.60" y1="548.80" x2="38.60" y2="554.20" stroke="#000" stroke-width="1.25"/>
<line x1="162.00" y1="548.80" x2="162.00" y2="554.20" stroke="#000" stroke-width="1.25"/>
<line x1="168.40" y1="551.50" x2="292.60" y2="551.50" stroke="#000" stroke-width="1.25"/>
<line x1="168.70" y1="548.80" x2="168.70" y2="554.20" stroke="#000" stroke-width="1.25"/>
<line x1="292.30" y1="548.80" x2="292.30" y2="554.20" stroke="#000" stroke-width="1.25"/>
<text x="63.40" y="565.90" font-size="10.6" font-weight="bold" textLength="80.70" lengthAdjust="spacing">Live H2k<tspan font-size="7.9" dy="-4.3">b+</tspan><tspan dy="4.3">CD4</tspan><tspan font-size="7.9" dy="-4.3">+</tspan></text>
<text x="192.80" y="565.90" font-size="10.6" font-weight="bold" textLength="81.20" lengthAdjust="spacing">Live H2k<tspan font-size="7.9" dy="-4.3">b+</tspan><tspan dy="4.3">CD8</tspan><tspan font-size="7.9" dy="-4.3">+</tspan></text>
<line x1="38.85" y1="597.35" x2="38.85" y2="727.90" stroke="#000" stroke-width="1.3"/>
<line x1="38.20" y1="727.20" x2="298.50" y2="727.20" stroke="#000" stroke-width="1.4"/>
<line x1="35.85" y1="598.05" x2="38.85" y2="598.05" stroke="#000" stroke-width="1.3"/>
<text x="34.55" y="601.93" font-size="12" font-weight="bold" text-anchor="end" >55</text>
<line x1="35.85" y1="621.60" x2="38.85" y2="621.60" stroke="#000" stroke-width="1.3"/>
<text x="34.55" y="625.48" font-size="12" font-weight="bold" text-anchor="end" >45</text>
<line x1="35.85" y1="645.15" x2="38.85" y2="645.15" stroke="#000" stroke-width="1.3"/>
<text x="34.55" y="649.03" font-size="12" font-weight="bold" text-anchor="end" >35</text>
<line x1="35.85" y1="668.70" x2="38.85" y2="668.70" stroke="#000" stroke-width="1.3"/>
<text x="34.55" y="672.58" font-size="12" font-weight="bold" text-anchor="end" >25</text>
<line x1="35.85" y1="692.25" x2="38.85" y2="692.25" stroke="#000" stroke-width="1.3"/>
<text x="34.55" y="696.13" font-size="12" font-weight="bold" text-anchor="end" >15</text>
<line x1="35.85" y1="715.80" x2="38.85" y2="715.80" stroke="#000" stroke-width="1.3"/>
<text x="34.55" y="719.68" font-size="12" font-weight="bold" text-anchor="end" >5</text>
<line x1="60.00" y1="727.20" x2="60.00" y2="730.40" stroke="#000" stroke-width="1.3"/>
<text x="60.00" y="742.40" font-size="12" font-weight="bold" text-anchor="middle" >Spleen</text>
<line x1="103.30" y1="727.20" x2="103.30" y2="730.40" stroke="#000" stroke-width="1.3"/>
<text x="103.30" y="742.40" font-size="12" font-weight="bold" text-anchor="middle" >Liver</text>
<line x1="146.80" y1="727.20" x2="146.80" y2="730.40" stroke="#000" stroke-width="1.3"/>
<text x="146.80" y="742.40" font-size="12" font-weight="bold" text-anchor="middle" >Lung</text>
<line x1="189.50" y1="727.20" x2="189.50" y2="730.40" stroke="#000" stroke-width="1.3"/>
<text x="189.50" y="742.40" font-size="12" font-weight="bold" text-anchor="middle" >Spleen</text>
<line x1="233.00" y1="727.20" x2="233.00" y2="730.40" stroke="#000" stroke-width="1.3"/>
<text x="233.00" y="742.40" font-size="12" font-weight="bold" text-anchor="middle" >Liver</text>
<line x1="276.30" y1="727.20" x2="276.30" y2="730.40" stroke="#000" stroke-width="1.3"/>
<text x="276.30" y="742.40" font-size="12" font-weight="bold" text-anchor="middle" >Lung</text>
<text transform="translate(17.00,691.80) rotate(-90) scale(1,1.08)" font-size="15.3" font-weight="bold" textLength="65.10" lengthAdjust="spacing">% TNF<tspan font-weight="normal">α</tspan><tspan font-size="10.5" dy="-6.8">+</tspan></text>
<rect x="51.40" y="641.90" width="7.2" height="7.2" fill="#000"/>
<rect x="61.40" y="648.90" width="7.2" height="7.2" fill="#000"/>
<rect x="47.20" y="654.90" width="7.2" height="7.2" fill="#000"/>
<rect x="65.90" y="659.40" width="7.2" height="7.2" fill="#000"/>
<rect x="56.40" y="663.90" width="7.2" height="7.2" fill="#000"/>
<line x1="45.00" y1="656.80" x2="74.50" y2="656.80" stroke="#000" stroke-width="1.4"/>
<rect x="51.80" y="707.30" width="6.4" height="6.4" fill="#cbcbcb" stroke="#000" stroke-width="1.4"/>
<rect x="61.80" y="707.30" width="6.4" height="6.4" fill="#cbcbcb" stroke="#000" stroke-width="1.4"/>
<rect x="47.60" y="711.80" width="6.4" height="6.4" fill="#cbcbcb" stroke="#000" stroke-width="1.4"/>
<rect x="66.80" y="713.60" width="6.4" height="6.4" fill="#cbcbcb" stroke="#000" stroke-width="1.4"/>
<rect x="56.80" y="719.30" width="6.4" height="6.4" fill="#cbcbcb" stroke="#000" stroke-width="1.4"/>
<line x1="45.00" y1="715.00" x2="74.50" y2="715.00" stroke="#000" stroke-width="1.4"/>
<text x="61.60" y="641.89" font-size="13" text-anchor="middle" letter-spacing="1.2" stroke="#000" stroke-width="0.3">***</text>
<rect x="99.70" y="613.70" width="7.2" height="7.2" fill="#000"/>
<rect x="99.70" y="631.90" width="7.2" height="7.2" fill="#000"/>
<rect x="90.20" y="639.40" width="7.2" height="7.2" fill="#000"/>
<rect x="108.90" y="639.40" width="7.2" height="7.2" fill="#000"/>
<rect x="99.70" y="643.90" width="7.2" height="7.2" fill="#000"/>
<line x1="88.30" y1="637.30" x2="118.00" y2="637.30" stroke="#000" stroke-width="1.4"/>
<rect x="90.60" y="712.80" width="6.4" height="6.4" fill="#cbcbcb" stroke="#000" stroke-width="1.4"/>
<rect x="109.30" y="713.60" width="6.4" height="6.4" fill="#cbcbcb" stroke="#000" stroke-width="1.4"/>
<rect x="95.60" y="716.10" width="6.4" height="6.4" fill="#cbcbcb" stroke="#000" stroke-width="1.4"/>
<rect x="104.30" y="716.80" width="6.4" height="6.4" fill="#cbcbcb" stroke="#000" stroke-width="1.4"/>
<rect x="100.10" y="719.80" width="6.4" height="6.4" fill="#cbcbcb" stroke="#000" stroke-width="1.4"/>
<line x1="88.30" y1="719.30" x2="118.00" y2="719.30" stroke="#000" stroke-width="1.4"/>
<text x="104.00" y="613.89" font-size="13" text-anchor="middle" letter-spacing="1.2" stroke="#000" stroke-width="0.3">***</text>
<rect x="137.70" y="601.20" width="7.2" height="7.2" fill="#000"/>
<rect x="148.20" y="603.70" width="7.2" height="7.2" fill="#000"/>
<rect x="133.40" y="613.70" width="7.2" height="7.2" fill="#000"/>
<rect x="152.20" y="613.70" width="7.2" height="7.2" fill="#000"/>
<rect x="143.20" y="620.20" width="7.2" height="7.2" fill="#000"/>
<line x1="131.30" y1="613.50" x2="161.30" y2="613.50" stroke="#000" stroke-width="1.4"/>
<rect x="138.10" y="685.60" width="6.4" height="6.4" fill="#cbcbcb" stroke="#000" stroke-width="1.4"/>
<rect x="148.60" y="689.80" width="6.4" height="6.4" fill="#cbcbcb" stroke="#000" stroke-width="1.4"/>
<rect x="133.80" y="692.30" width="6.4" height="6.4" fill="#cbcbcb" stroke="#000" stroke-width="1.4"/>
<rect x="152.60" y="698.60" width="6.4" height="6.4" fill="#cbcbcb" stroke="#000" stroke-width="1.4"/>
<rect x="143.60" y="700.60" width="6.4" height="6.4" fill="#cbcbcb" stroke="#000" stroke-width="1.4"/>
<line x1="131.30" y1="697.30" x2="161.30" y2="697.30" stroke="#000" stroke-width="1.4"/>
<text x="147.20" y="601.39" font-size="13" text-anchor="middle" letter-spacing="1.2" stroke="#000" stroke-width="0.3">***</text>
<rect x="180.70" y="676.90" width="7.2" height="7.2" fill="#000"/>
<rect x="191.40" y="674.40" width="7.2" height="7.2" fill="#000"/>
<rect x="177.20" y="696.20" width="7.2" height="7.2" fill="#000"/>
<rect x="185.90" y="698.20" width="7.2" height="7.2" fill="#000"/>
<rect x="195.90" y="696.20" width="7.2" height="7.2" fill="#000"/>
<line x1="175.00" y1="691.80" x2="204.50" y2="691.80" stroke="#000" stroke-width="1.4"/>
<rect x="176.80" y="714.30" width="6.4" height="6.4" fill="#cbcbcb" stroke="#000" stroke-width="1.4"/>
<rect x="195.60" y="714.30" width="6.4" height="6.4" fill="#cbcbcb" stroke="#000" stroke-width="1.4"/>
<rect x="181.80" y="717.30" width="6.4" height="6.4" fill="#cbcbcb" stroke="#000" stroke-width="1.4"/>
<rect x="191.80" y="721.10" width="6.4" height="6.4" fill="#cbcbcb" stroke="#000" stroke-width="1.4"/>
<rect x="186.30" y="721.60" width="6.4" height="6.4" fill="#cbcbcb" stroke="#000" stroke-width="1.4"/>
<line x1="175.00" y1="721.30" x2="204.50" y2="721.30" stroke="#000" stroke-width="1.4"/>
<text x="190.00" y="674.39" font-size="13" text-anchor="middle" letter-spacing="1.2" stroke="#000" stroke-width="0.3">*</text>
<rect x="224.30" y="720.10" width="6.4" height="6.4" fill="#cbcbcb" stroke="#000" stroke-width="1.4"/>
<rect x="234.80" y="720.10" width="6.4" height="6.4" fill="#cbcbcb" stroke="#000" stroke-width="1.4"/>
<rect x="227.80" y="722.80" width="6.4" height="6.4" fill="#cbcbcb" stroke="#000" stroke-width="1.4"/>
<rect x="231.80" y="723.10" width="6.4" height="6.4" fill="#cbcbcb" stroke="#000" stroke-width="1.4"/>
<rect x="229.80" y="720.80" width="6.4" height="6.4" fill="#cbcbcb" stroke="#000" stroke-width="1.4"/>
<line x1="218.00" y1="724.50" x2="248.00" y2="724.50" stroke="#000" stroke-width="1.4"/>
<rect x="223.80" y="713.80" width="7.2" height="7.2" fill="#000"/>
<rect x="234.40" y="713.80" width="7.2" height="7.2" fill="#000"/>
<rect x="217.60" y="716.80" width="7.2" height="7.2" fill="#000"/>
<rect x="240.90" y="716.80" width="7.2" height="7.2" fill="#000"/>
<rect x="229.40" y="717.90" width="7.2" height="7.2" fill="#000"/>
<line x1="218.00" y1="719.30" x2="248.00" y2="719.30" stroke="#000" stroke-width="1.4"/>
<rect x="272.70" y="670.20" width="7.2" height="7.2" fill="#000"/>
<rect x="263.40" y="678.90" width="7.2" height="7.2" fill="#000"/>
<rect x="272.70" y="686.20" width="7.2" height="7.2" fill="#000"/>
<rect x="281.90" y="686.20" width="7.2" height="7.2" fill="#000"/>
<rect x="272.70" y="698.20" width="7.2" height="7.2" fill="#000"/>
<line x1="261.30" y1="687.50" x2="290.80" y2="687.50" stroke="#000" stroke-width="1.4"/>
<rect x="263.80" y="699.80" width="6.4" height="6.4" fill="#cbcbcb" stroke="#000" stroke-width="1.4"/>
<rect x="282.30" y="702.30" width="6.4" height="6.4" fill="#cbcbcb" stroke="#000" stroke-width="1.4"/>
<rect x="268.10" y="706.10" width="6.4" height="6.4" fill="#cbcbcb" stroke="#000" stroke-width="1.4"/>
<rect x="273.10" y="711.10" width="6.4" height="6.4" fill="#cbcbcb" stroke="#000" stroke-width="1.4"/>
<rect x="278.60" y="711.10" width="6.4" height="6.4" fill="#cbcbcb" stroke="#000" stroke-width="1.4"/>
<line x1="261.30" y1="709.30" x2="290.80" y2="709.30" stroke="#000" stroke-width="1.4"/>
<text x="276.60" y="670.39" font-size="13" text-anchor="middle" letter-spacing="1.2" stroke="#000" stroke-width="0.3">**</text>
<line x1="38.30" y1="747.50" x2="162.30" y2="747.50" stroke="#000" stroke-width="1.25"/>
<line x1="38.60" y1="744.80" x2="38.60" y2="750.20" stroke="#000" stroke-width="1.25"/>
<line x1="162.00" y1="744.80" x2="162.00" y2="750.20" stroke="#000" stroke-width="1.25"/>
<line x1="168.40" y1="747.50" x2="292.60" y2="747.50" stroke="#000" stroke-width="1.25"/>
<line x1="168.70" y1="744.80" x2="168.70" y2="750.20" stroke="#000" stroke-width="1.25"/>
<line x1="292.30" y1="744.80" x2="292.30" y2="750.20" stroke="#000" stroke-width="1.25"/>
<text x="63.10" y="762.00" font-size="10.6" font-weight="bold" textLength="81.00" lengthAdjust="spacing">Live H2k<tspan font-size="7.9" dy="-4.3">b+</tspan><tspan dy="4.3">CD4</tspan><tspan font-size="7.9" dy="-4.3">+</tspan></text>
<text x="192.60" y="762.00" font-size="10.6" font-weight="bold" textLength="81.40" lengthAdjust="spacing">Live H2k<tspan font-size="7.9" dy="-4.3">b+</tspan><tspan dy="4.3">CD8</tspan><tspan font-size="7.9" dy="-4.3">+</tspan></text>
<rect x="376.35" y="435.15" width="9.5" height="10.3" fill="url(#hatch)" stroke="#000" stroke-width="1.3"/>
<rect x="376.35" y="449.45" width="9.5" height="10.3" fill="#000" stroke="#000" stroke-width="1.3"/>
<rect x="376.35" y="463.75" width="9.5" height="10.3" fill="#cbcbcb" stroke="#000" stroke-width="1.3"/>
<text x="391.30" y="443.90" font-size="12.8" font-weight="bold" text-anchor="start" >BM only</text>
<text x="391.30" y="458.30" font-size="12.8" font-weight="bold" text-anchor="start" >Tc + Vehicle</text>
<text x="391.30" y="472.70" font-size="12.8" font-weight="bold" text-anchor="start" >Tc + R524</text>
<text x="443.80" y="529.00" font-size="14.5" font-weight="bold" text-anchor="middle" >Serum Cytokine</text>
<line x1="370.20" y1="535.85" x2="370.20" y2="657.85" stroke="#000" stroke-width="1.3"/>
<line x1="369.55" y1="657.15" x2="518.80" y2="657.15" stroke="#000" stroke-width="1.4"/>
<line x1="367.20" y1="536.46" x2="370.20" y2="536.46" stroke="#000" stroke-width="1.3"/>
<text x="365.90" y="540.51" font-size="12.5" font-weight="bold" text-anchor="end" >140</text>
<line x1="367.20" y1="553.68" x2="370.20" y2="553.68" stroke="#000" stroke-width="1.3"/>
<text x="365.90" y="557.73" font-size="12.5" font-weight="bold" text-anchor="end" >120</text>
<line x1="367.20" y1="570.90" x2="370.20" y2="570.90" stroke="#000" stroke-width="1.3"/>
<text x="365.90" y="574.95" font-size="12.5" font-weight="bold" text-anchor="end" >100</text>
<line x1="367.20" y1="588.12" x2="370.20" y2="588.12" stroke="#000" stroke-width="1.3"/>
<text x="365.90" y="592.17" font-size="12.5" font-weight="bold" text-anchor="end" >80</text>
<line x1="367.20" y1="605.34" x2="370.20" y2="605.34" stroke="#000" stroke-width="1.3"/>
<text x="365.90" y="609.39" font-size="12.5" font-weight="bold" text-anchor="end" >60</text>
<line x1="367.20" y1="622.56" x2="370.20" y2="622.56" stroke="#000" stroke-width="1.3"/>
<text x="365.90" y="626.61" font-size="12.5" font-weight="bold" text-anchor="end" >40</text>
<line x1="367.20" y1="639.78" x2="370.20" y2="639.78" stroke="#000" stroke-width="1.3"/>
<text x="365.90" y="643.83" font-size="12.5" font-weight="bold" text-anchor="end" >20</text>
<line x1="367.20" y1="657.00" x2="370.20" y2="657.00" stroke="#000" stroke-width="1.3"/>
<text x="365.90" y="661.05" font-size="12.5" font-weight="bold" text-anchor="end" >0</text>
<line x1="393.90" y1="657.15" x2="393.90" y2="660.35" stroke="#000" stroke-width="1.3"/>
<text x="393.90" y="670.40" font-size="12" font-weight="bold" text-anchor="middle" ></text>
<line x1="444.00" y1="657.15" x2="444.00" y2="660.35" stroke="#000" stroke-width="1.3"/>
<text x="444.00" y="670.40" font-size="12" font-weight="bold" text-anchor="middle" ></text>
<line x1="493.70" y1="657.15" x2="493.70" y2="660.35" stroke="#000" stroke-width="1.3"/>
<text x="493.70" y="670.40" font-size="12" font-weight="bold" text-anchor="middle" ></text>
<text transform="translate(343.70,615.30) rotate(-90)" font-size="14.8" font-weight="bold" textLength="43.30" lengthAdjust="spacing">pg/mL</text>
<line x1="381.68" y1="654.07" x2="381.68" y2="655.19" stroke="#000" stroke-width="1.3"/>
<line x1="378.18" y1="654.07" x2="385.18" y2="654.07" stroke="#000" stroke-width="1.3"/>
<rect x="375.60" y="655.19" width="12.15" height="1.91" fill="url(#hatch)" stroke="#000" stroke-width="1.2"/>
<line x1="394.43" y1="627.30" x2="394.43" y2="636.08" stroke="#000" stroke-width="1.3"/>
<line x1="390.93" y1="627.30" x2="397.93" y2="627.30" stroke="#000" stroke-width="1.3"/>
<rect x="388.35" y="636.08" width="12.15" height="21.02" fill="#000" stroke="#000" stroke-width="1.2"/>
<line x1="407.18" y1="642.19" x2="407.18" y2="642.88" stroke="#000" stroke-width="1.3"/>
<line x1="403.68" y1="642.19" x2="410.68" y2="642.19" stroke="#000" stroke-width="1.3"/>
<rect x="401.10" y="642.88" width="12.15" height="14.22" fill="#cbcbcb" stroke="#000" stroke-width="1.2"/>
<line x1="431.18" y1="648.82" x2="431.18" y2="651.58" stroke="#000" stroke-width="1.3"/>
<line x1="427.68" y1="648.82" x2="434.68" y2="648.82" stroke="#000" stroke-width="1.3"/>
<rect x="425.10" y="651.58" width="12.15" height="5.52" fill="url(#hatch)" stroke="#000" stroke-width="1.2"/>
<line x1="443.93" y1="541.28" x2="443.93" y2="557.99" stroke="#000" stroke-width="1.3"/>
<line x1="440.43" y1="541.28" x2="447.43" y2="541.28" stroke="#000" stroke-width="1.3"/>
<rect x="437.85" y="557.99" width="12.15" height="99.12" fill="#000" stroke="#000" stroke-width="1.2"/>
<line x1="456.68" y1="586.74" x2="456.68" y2="601.72" stroke="#000" stroke-width="1.3"/>
<line x1="453.18" y1="586.74" x2="460.18" y2="586.74" stroke="#000" stroke-width="1.3"/>
<rect x="450.60" y="601.72" width="12.15" height="55.38" fill="#cbcbcb" stroke="#000" stroke-width="1.2"/>
<line x1="480.88" y1="656.05" x2="480.88" y2="656.31" stroke="#000" stroke-width="1.3"/>
<line x1="477.38" y1="656.05" x2="484.38" y2="656.05" stroke="#000" stroke-width="1.3"/>
<rect x="474.80" y="656.31" width="12.15" height="0.79" fill="url(#hatch)" stroke="#000" stroke-width="1.2"/>
<line x1="493.62" y1="647.36" x2="493.62" y2="649.25" stroke="#000" stroke-width="1.3"/>
<line x1="490.12" y1="647.36" x2="497.12" y2="647.36" stroke="#000" stroke-width="1.3"/>
<rect x="487.55" y="649.25" width="12.15" height="7.85" fill="#000" stroke="#000" stroke-width="1.2"/>
<line x1="506.38" y1="648.30" x2="506.38" y2="650.54" stroke="#000" stroke-width="1.3"/>
<line x1="502.88" y1="648.30" x2="509.88" y2="648.30" stroke="#000" stroke-width="1.3"/>
<rect x="500.30" y="650.54" width="12.15" height="6.56" fill="#cbcbcb" stroke="#000" stroke-width="1.2"/>
<text x="380.60" y="672.00" font-size="12.2" font-weight="bold" text-anchor="start" >IFN<tspan font-weight="normal" font-size="13">γ</tspan></text>
<text x="429.40" y="672.00" font-size="12.2" font-weight="bold" text-anchor="start" >TNF<tspan font-weight="normal" font-size="14.5" dx="0.6">α</tspan></text>
<text x="483.30" y="672.00" font-size="12.2" font-weight="bold" text-anchor="start" >IL-6</text>
<text x="382.90" y="653.19" font-size="13" text-anchor="middle" letter-spacing="1.2" stroke="#000" stroke-width="0.3">*</text>
<text x="427.90" y="647.59" font-size="13" text-anchor="middle" letter-spacing="1.2" stroke="#000" stroke-width="0.3">***</text>
<text x="461.10" y="586.79" font-size="13" text-anchor="middle" letter-spacing="1.2" stroke="#000" stroke-width="0.3">***</text>
<text x="482.40" y="656.29" font-size="13" text-anchor="middle" letter-spacing="1.2" stroke="#000" stroke-width="0.3">*</text>
</svg>
</body></html>
